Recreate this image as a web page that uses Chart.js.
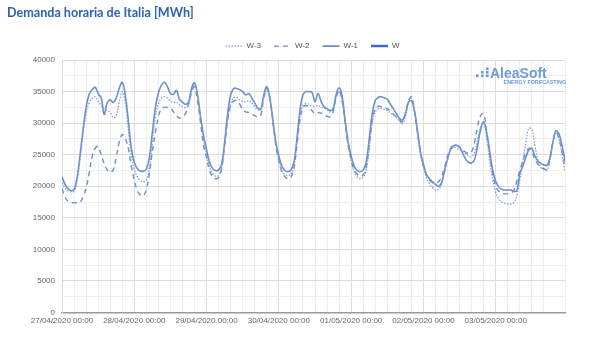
<!DOCTYPE html>
<html>
<head>
<meta charset="utf-8">
<script src="https://cdn.jsdelivr.net/npm/chart.js@4/dist/chart.umd.min.js"></script>
<style>
  html, body { margin: 0; padding: 0; background: #fff; }
  #wrap { width: 600px; height: 351px; position: relative; }
</style>
</head>
<body>
<div id="wrap"><canvas id="chartDemanda"></canvas></div>
<script>
// Horas de la semana (0 = 27/04/2020 00:00)
const hours = Array.from({ length: 168 }, (_, i) => i);
const dayLabels = ['27/04/2020 00:00', '28/04/2020 00:00', '29/04/2020 00:00', '30/04/2020 00:00',
    '01/05/2020 00:00', '02/05/2020 00:00', '03/05/2020 00:00'];
const seriesNames = ['W-3', 'W-2', 'W-1', 'W'];

const w3 = [
    20500, 19700, 19300, 19100, 19200, 20800, 24300, 28300, 31500, 33200, 33900, 34200, 33500, 32800, 32300, 32000, 31700, 30900, 31200, 33300, 35000, 33200, 29000, 25000,
    22700, 21500, 20900, 20700, 21000, 22800, 27000, 31000, 33000, 34000, 34200, 34000, 33500, 33300, 33300, 32900, 32600, 32500, 33000, 35000, 36300, 34500, 31000, 27500,
    25000, 23000, 22000, 21600, 21700, 23000, 26500, 30500, 33000, 34000, 34100, 33700, 33400, 33400, 33600, 33200, 32600, 32100, 32300, 34200, 35200, 33800, 30000, 26500,
    24200, 22500, 21900, 21700, 21900, 23200, 27000, 31000, 32800, 33100, 33000, 32700, 32700, 32800, 32600, 32400, 32100, 31800, 32200, 34000, 35000, 33500, 30000, 26500,
    24000, 22300, 21500, 21200, 21400, 22700, 26000, 30000, 31800, 32300, 32300, 32200, 32000, 31700, 31300, 30900, 30300, 29900, 31000, 33000, 33900, 31800, 28500, 25000,
    23000, 21300, 20400, 19800, 19400, 19500, 20300, 22300, 24300, 25700, 26200, 26000, 25800, 25600, 25200, 24800, 24700, 25500, 27500, 29400, 30000, 27500, 24000, 21000,
    19000, 18000, 17500, 17300, 17200, 17200, 17400, 18500, 21000, 24000, 27000, 29200, 29000, 26500, 24200, 23000, 22600, 22500, 24000, 27000, 28500, 27500, 25000, 22500
];
const w2 = [
    19600, 18300, 17600, 17400, 17400, 17400, 17500, 18300, 19700, 22000, 24700, 26000, 26300, 25000, 23600, 22600, 22200, 22600, 24500, 27000, 28200, 27600, 26000, 23200,
    21000, 19300, 18600, 18500, 19500, 22000, 25500, 28500, 31000, 32300, 32500, 32500, 32400, 31800, 31200, 30800, 31000, 31500, 33000, 34800, 35800, 33500, 30000, 26500,
    24500, 22500, 21500, 21200, 21400, 22800, 26500, 30500, 32800, 33500, 33600, 33000, 32200, 31800, 31700, 31400, 31200, 31000, 31300, 34000, 35500, 34000, 30500, 26500,
    24000, 22300, 21500, 21200, 21400, 22800, 26500, 30500, 32500, 32800, 32500, 32000, 31500, 31700, 31600, 31300, 31100, 31000, 31800, 34000, 35300, 33500, 30000, 26500,
    24200, 22600, 21900, 21600, 21800, 23000, 26500, 30500, 32300, 32700, 32600, 32400, 32300, 31900, 31400, 31000, 30500, 30200, 31500, 33500, 34200, 32000, 28500, 25500,
    23200, 21800, 21000, 20600, 20500, 20700, 21500, 23000, 24800, 26000, 26500, 26500, 26200, 25800, 25400, 25200, 25500, 27000, 29500, 31200, 31500, 28500, 25000, 22000,
    20000, 19200, 18900, 18800, 18800, 18900, 19300, 20800, 22500, 24000, 25300, 26000, 25500, 24300, 23500, 23000, 22800, 22700, 24500, 27000, 28600, 27500, 25500, 23000
];
const w1 = [
    21500, 20300, 19600, 19300, 19500, 21300, 25000, 29000, 32500, 34600, 35300, 35700, 34700, 34000, 31400, 33200, 33700, 33300, 34000, 35500, 36500, 34500, 30500, 26000,
    23800, 22800, 22400, 22400, 22700, 24500, 28500, 32500, 34800, 36000, 36500, 35800, 34700, 34600, 35200, 33800, 33300, 33000, 33300, 35500, 36400, 34500, 31000, 28000,
    25800, 23800, 22800, 22500, 22600, 23500, 27000, 31500, 34500, 35500, 35500, 35300, 35000, 34500, 34700, 34000, 33200, 32400, 32200, 34500, 35800, 34000, 30500, 27000,
    24800, 23200, 22500, 22300, 22600, 23800, 27500, 32000, 34500, 35000, 35000, 34900, 33400, 34700, 33500, 32600, 32300, 32000, 32300, 34500, 35600, 34300, 30500, 27000,
    24800, 23200, 22500, 22300, 22600, 23800, 27500, 31500, 33600, 34100, 34200, 34000, 33800, 33000, 32300, 31500, 30800, 30500, 31500, 33300, 33600, 32000, 29000, 25500,
    23500, 21900, 21200, 20700, 20300, 20000, 20500, 22500, 24300, 25800, 26400, 26500, 26200, 25300, 24300, 23800, 23700, 24300, 26500, 29000, 30200, 28500, 25500, 22500,
    20800, 19900, 19500, 19400, 19400, 19400, 19200, 19300, 22000, 23200, 24600, 25800, 26000, 24800, 24000, 23600, 23400, 23300, 24500, 27000, 28800, 28300, 26500, 24000
];
const w0 = [];

const lineColor = '#6d8fcb';
const tickFont = { family: '"Liberation Sans", Arial, sans-serif', size: 8 };

// Logo de fondo
const logoPlugin = {
    id: 'logo',
    afterLayout(chart) {
        // centrar la leyenda sobre el area del grafico
        const lg = chart.legend;
        const ca = chart.chartArea;
        const shift = (ca.left + ca.right) / 2 - (lg.left + lg.right) / 2 - 1;
        lg.left += shift;
        lg.right += shift;
    },
    afterDraw(chart) {
        const ctx = chart.ctx;
        ctx.save();
        ctx.fillStyle = '#6e9be0';
        // puntos del logo
        const dots = [[476, 74.5], [481, 74.5], [481, 71], [486, 74.5], [486, 71], [486, 67.5]];
        dots.forEach(d => ctx.fillRect(d[0], d[1], 2.6, 2.6));
        ctx.font = 'bold 14px "Liberation Sans", Arial, sans-serif';
        ctx.textBaseline = 'alphabetic';
        ctx.fillText('AleaSoft', 490, 77.5);
        ctx.font = 'bold 5.3px "Liberation Sans", Arial, sans-serif';
        ctx.textAlign = 'right';
        ctx.fillText('ENERGY FORECASTING', 566, 83.5);
        ctx.restore();
    }
};

new Chart(document.getElementById('chartDemanda'), {
    type: 'line',
    data: {
        labels: hours,
        datasets: [
            { label: seriesNames[0], data: w3, borderColor: '#7b9bd3', borderWidth: 1.2, borderDash: [1.5, 1.5] },
            { label: seriesNames[1], data: w2, borderColor: lineColor, borderWidth: 1.4, borderDash: [5, 4] },
            { label: seriesNames[2], data: w1, borderColor: lineColor, borderWidth: 1.6 },
            { label: seriesNames[3], data: w0, borderColor: '#3a6bc0', borderWidth: 2.5 }
        ]
    },
    options: {
        responsive: true,
        maintainAspectRatio: false,
        animation: false,
        elements: {
            point: { radius: 0 },
            line: { tension: 0.4, fill: false }
        },
        layout: { padding: { left: 7, right: 35, top: 0, bottom: 21 } },
        scales: {
            x: {
                type: 'linear',
                min: 0,
                max: 167,
                ticks: {
                    stepSize: 4,
                    autoSkip: false,
                    maxRotation: 0,
                    color: '#666',
                    padding: 4,
                    font: tickFont,
                    callback: function(value) {
                        return value % 24 === 0 ? dayLabels[value / 24] : '';
                    }
                },
                grid: {
                    color: ctx => (ctx.tick && ctx.tick.value % 24 === 0) ? '#dcdcdc' : '#eeeeee',
                    drawTicks: false
                },
                border: { color: '#9a9a9a', width: 1.5 }
            },
            y: {
                min: 0,
                max: 40000,
                afterFit: function(scale) { scale.width = 55; },
                ticks: {
                    stepSize: 2500,
                    color: '#666',
                    padding: 7,
                    font: tickFont,
                    callback: function(value) {
                        return value % 5000 === 0 ? value : '';
                    }
                },
                grid: {
                    color: ctx => (ctx.tick && ctx.tick.value % 5000 === 0) ? '#dcdcdc' : '#eeeeee',
                    drawTicks: false
                },
                border: { color: '#dcdcdc' }
            }
        },
        plugins: {
            title: {
                display: true,
                text: 'Demanda horaria de Italia [MWh]',
                align: 'start',
                color: '#2f62b0',
                font: { family: 'Lato, sans-serif', size: 12.6, weight: 'bold' },
                padding: { top: 5, bottom: 9 }
            },
            legend: {
                position: 'top',
                labels: {
                    usePointStyle: true,
                    pointStyle: 'line',
                    pointStyleWidth: 17,
                    boxHeight: 8,
                    padding: 13,
                    color: '#555',
                    font: { family: '"Liberation Sans", Arial, sans-serif', size: 8 },
                    // el estilo de punto pierde el borderDash, se copia del dataset
                    generateLabels: function(chart) {
                        const items = Chart.defaults.plugins.legend.labels.generateLabels(chart);
                        return items.map((item, i) => {
                            const ds = chart.data.datasets[i];
                            item.lineDash = ds.borderDash || [];
                            item.lineWidth = ds.borderWidth;
                            item.strokeStyle = ds.borderColor;
                            return item;
                        });
                    }
                }
            },
            tooltip: { enabled: false }
        }
    },
    plugins: [logoPlugin]
});
</script>
</body>
</html>
